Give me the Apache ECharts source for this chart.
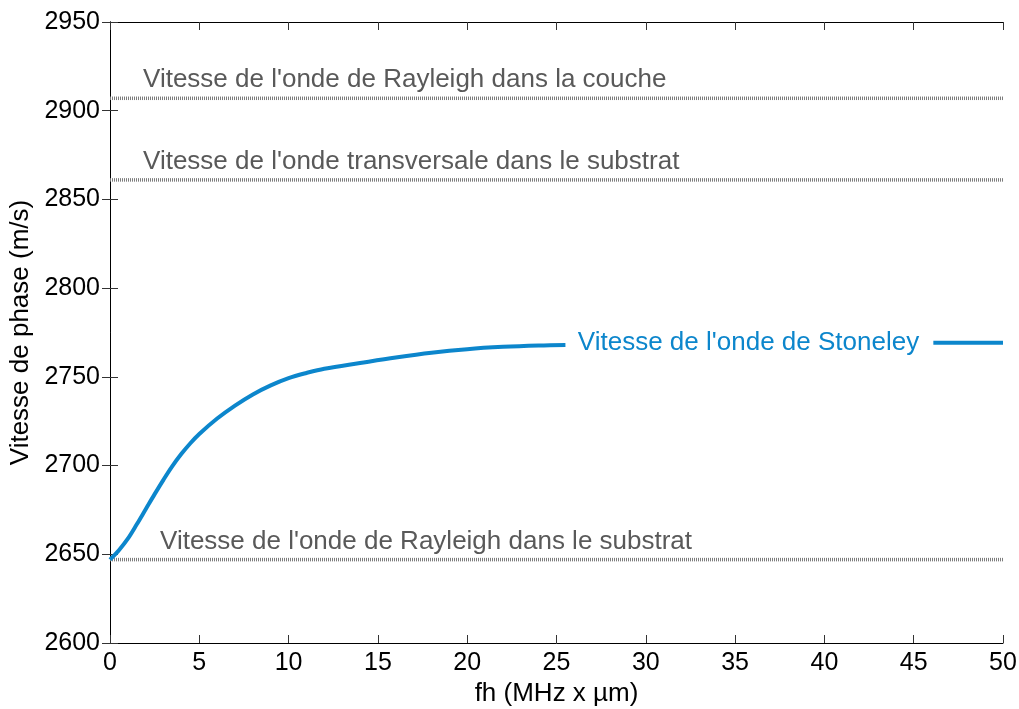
<!DOCTYPE html>
<html>
<head>
<meta charset="utf-8">
<script src="https://cdn.jsdelivr.net/npm/echarts@6/dist/echarts.min.js"></script>
<style>
  html, body { margin: 0; padding: 0; background: #fff; }
  #chart { width: 1019px; height: 709px; }
</style>
</head>
<body>
<div id="chart"></div>
<script>
// Stoneley-wave dispersion curve: phase velocity (m/s) versus fh (MHz x µm)
const stoneleyFh = [0, 0.5, 1, 1.5, 2, 2.5, 3, 3.5, 4, 4.5, 5, 6, 7, 8, 9, 10, 11, 12, 14, 16, 18, 20, 22, 24, 25.5];
const stoneleyV  = [2647, 2652.3, 2658.8, 2666.9, 2675.4, 2683.9, 2692.1, 2699.8, 2706.6, 2712.6, 2717.8, 2726.5, 2733.8, 2740.1, 2745.2, 2749.3, 2752.2, 2754.6, 2757.8, 2760.9, 2763.6, 2765.6, 2766.9, 2767.7, 2768.0];
// tail of the curve, after the label
const stoneleyTailFh = [46.1, 50];
const stoneleyTailV  = [2769.2, 2769.2];

// reference velocities (m/s)
const refNames = [
  "Vitesse de l'onde de Rayleigh dans la couche",
  "Vitesse de l'onde transversale dans le substrat",
  "Vitesse de l'onde de Rayleigh dans le substrat"
];
const refValues = [2907, 2861, 2647];
const refLabelFh = [1.85, 1.85, 2.8];

const stoneleyLabel = "Vitesse de l'onde de Stoneley";
const stoneleyLabelPos = [35.75, 2769.0];

const xTicks = { min: 0, max: 50, interval: 5 };
const yTicks = { min: 2600, max: 2950, interval: 50 };

const FONT = "'Liberation Sans', Arial, sans-serif";
const BLUE = '#0c86cc';
const GREY_TXT = '#595959';
const GREY_LINE = '#7c7c7c';

const curveData = stoneleyFh.map((x, i) => [x, stoneleyV[i]])
  .concat([[null, null]])
  .concat(stoneleyTailFh.map((x, i) => [x, stoneleyTailV[i]]));

const refSeries = refValues.map((v) => ({
  type: 'line',
  data: [[xTicks.min, v], [xTicks.max, v]],
  symbol: 'none',
  silent: true,
  lineStyle: { color: GREY_LINE, width: 3.5, type: [1, 1] },
  z: 1
}));

const refLabelSeries = {
  type: 'scatter',
  symbolSize: 0,
  silent: true,
  itemStyle: { opacity: 1 },
  data: refValues.map((v, i) => ({ value: [refLabelFh[i], v], name: refNames[i] })),
  label: {
    show: true,
    position: 'right',
    distance: 0,
    offset: [0, -18],
    formatter: p => p.name,
    fontFamily: FONT,
    fontSize: 26,
    color: GREY_TXT
  }
};

const axisCommon = {
  type: 'value',
  axisLine: { show: true, lineStyle: { color: '#000', width: 1 } },
  axisTick: { show: true, inside: true, length: 8, lineStyle: { color: '#333', width: 1 } },
  splitLine: { show: false }
};

const option = {
  backgroundColor: '#fff',
  animation: false,
  grid: { left: 110, right: 16, top: 22, bottom: 66, containLabel: false, outerBoundsMode: 'none' },
  xAxis: [
    Object.assign({}, axisCommon, xTicks, {
      position: 'bottom',
      name: 'fh (MHz x µm)',
      nameLocation: 'middle',
      nameGap: 38,
      nameTextStyle: { fontFamily: FONT, fontSize: 26, color: '#000' },
      axisLabel: { fontFamily: FONT, fontSize: 25, color: '#000', margin: 8 }
    }),
    Object.assign({}, axisCommon, xTicks, {
      position: 'top',
      axisLabel: { show: false }
    })
  ],
  yAxis: [
    Object.assign({}, axisCommon, yTicks, {
      position: 'left',
      name: 'Vitesse de phase (m/s)',
      nameLocation: 'middle',
      nameGap: 67,
      nameRotate: 90,
      nameTextStyle: { fontFamily: FONT, fontSize: 26, color: '#000' },
      axisLabel: { fontFamily: FONT, fontSize: 25, color: '#000', margin: 10, formatter: v => String(v) }
    }),
    Object.assign({}, axisCommon, yTicks, {
      position: 'right',
      axisLabel: { show: false }
    })
  ],
  series: refSeries.concat([
    refLabelSeries,
    {
      type: 'line',
      data: curveData,
      connectNulls: false,
      smooth: 0.35,
      symbol: 'none',
      lineStyle: { color: BLUE, width: 4 },
      z: 3
    },
    {
      type: 'scatter',
      symbolSize: 0,
      silent: true,
      itemStyle: { opacity: 1 },
      data: [{ value: stoneleyLabelPos, name: stoneleyLabel }],
      label: {
        show: true,
        position: 'inside',
        formatter: p => p.name,
        fontFamily: FONT,
        fontSize: 26,
        color: BLUE
      }
    }
  ])
};

const chart = echarts.init(document.getElementById('chart'), null, { renderer: 'canvas' });
chart.setOption(option);
</script>
</body>
</html>
